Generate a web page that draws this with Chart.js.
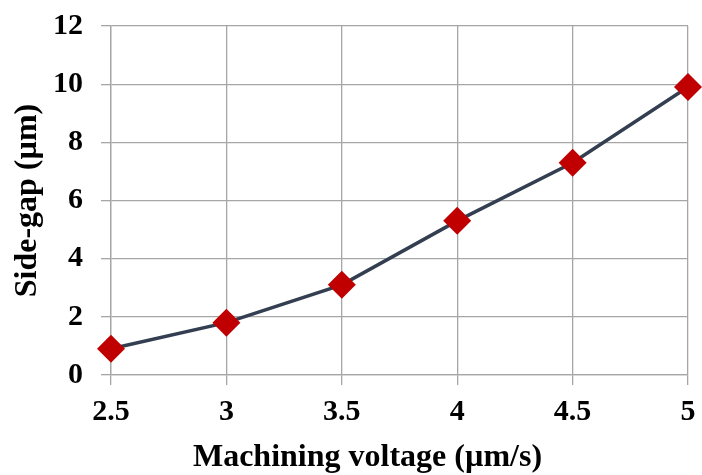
<!DOCTYPE html>
<html>
<head>
<meta charset="utf-8">
<script src="https://cdn.jsdelivr.net/npm/chart.js@4.4.0/dist/chart.umd.min.js"></script>
<style>
  body { margin: 0; background: #fff; }
  #wrap { width: 702px; height: 475px; }
</style>
</head>
<body>
<div id="wrap"><canvas id="grafico"></canvas></div>
<script>
const voltaje = [2.5, 3, 3.5, 4, 4.5, 5];
const sideGap = [0.9, 1.8, 3.1, 5.3, 7.3, 9.9];
const yTicks = [0, 2, 4, 6, 8, 10, 12];

const puntos = [];
for (let i = 0; i < voltaje.length; i++) {
  puntos.push({ x: voltaje[i], y: sideGap[i] });
}

const familia = "'Liberation Serif', 'Times New Roman', serif";
const fuenteTicks = { family: familia, weight: "bold", size: 30, lineHeight: 1.2 };
const fuenteTitulo = { family: familia, weight: "bold", size: 32, lineHeight: 1.1 };

const ctx = document.getElementById("grafico").getContext("2d");
const myChart = new Chart(ctx, {
  type: "line",
  data: {
    datasets: [
      {
        data: puntos,
        borderColor: "#333f50",
        borderWidth: 3.5,
        pointStyle: "rectRot",
        pointRadius: 14,
        pointHoverRadius: 14,
        pointBackgroundColor: "#c00000",
        pointBorderColor: "#c00000",
        pointBorderWidth: 0,
        tension: 0,
        clip: false,
      },
    ],
  },
  options: {
    responsive: true,
    maintainAspectRatio: false,
    animation: false,
    layout: { padding: { top: 26, right: 2, left: 10, bottom: 0 } },
    scales: {
      x: {
        type: "linear",
        min: 2.5,
        max: 5,
        afterFit: (axis) => {
          axis.height = 100;
          axis.paddingLeft = 0;
          axis.paddingRight = 0;
        },
        ticks: {
          stepSize: 0.5,
          color: "#000",
          font: fuenteTicks,
          padding: 9,
          maxRotation: 0,
          callback: (v) => String(v),
        },
        grid: { color: "#a6a6a6", lineWidth: 1.3, tickLength: 10 },
        border: { color: "#a6a6a6", width: 1.3 },
        // espacios al final para correr el titulo a la izquierda como en el original
        title: { display: true, text: "Machining voltage (µm/s)        ", color: "#000", font: fuenteTitulo, padding: { top: 0, bottom: 0 } },
      },
      y: {
        min: 0,
        max: 12,
        afterFit: (axis) => {
          axis.width = 101;
          axis.paddingTop = 0;
          axis.paddingBottom = 0;
        },
        afterBuildTicks: (axis) => { axis.ticks = yTicks.map((v) => ({ value: v })); },
        ticks: { color: "#000", font: fuenteTicks, padding: 18 },
        grid: { color: "#a6a6a6", lineWidth: 1.3, tickLength: 10 },
        border: { color: "#a6a6a6", width: 1.3 },
        title: { display: true, text: "Side-gap (µm)", color: "#000", font: fuenteTitulo, padding: { top: 0, bottom: 0 } },
      },
    },
    plugins: {
      legend: { display: false },
      tooltip: { enabled: false },
    },
  },
});
</script>
</body>
</html>
